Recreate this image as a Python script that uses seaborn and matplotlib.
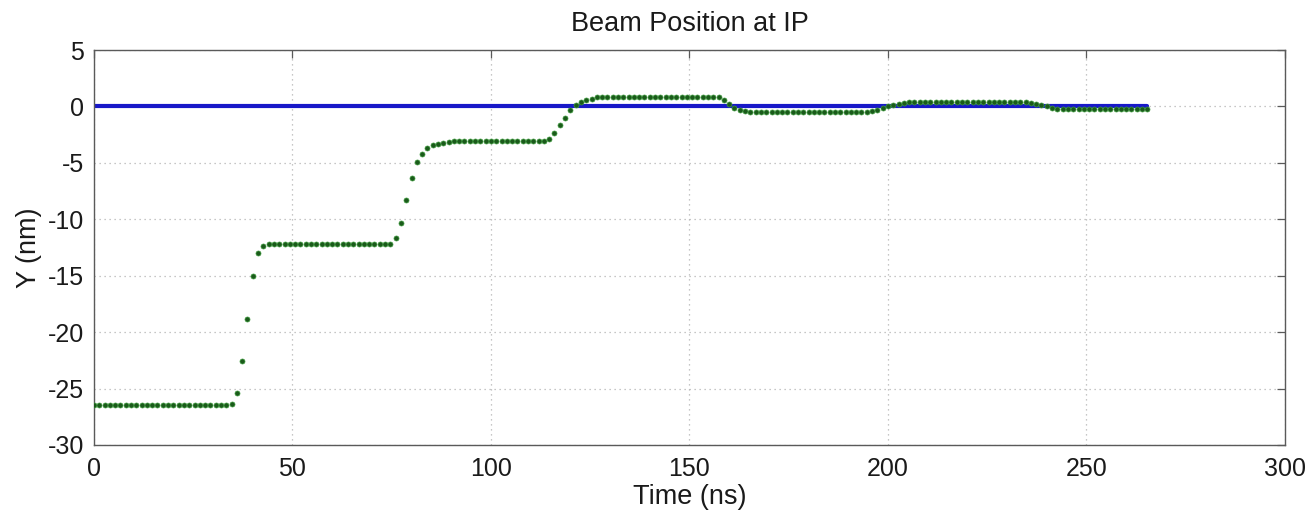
import numpy as np
import pandas as pd
import matplotlib
matplotlib.use("Agg")
import matplotlib.pyplot as plt
import seaborn as sns

# Sampling of the simulated bunch train
sample_period_ns = 4.0 / 3.0
n_samples = 200

# Vertical beam offset at the interaction point (nm), one value per bunch
beam_y_nm = [
    -26.5, -26.5, -26.5, -26.5, -26.5, -26.5, -26.5, -26.5, -26.5, -26.5,
    -26.5, -26.5, -26.5, -26.5, -26.5, -26.5, -26.5, -26.5, -26.5, -26.5,
    -26.5, -26.5, -26.5, -26.5, -26.5, -26.5, -26.4, -25.4, -22.6, -18.8,
    -15.0, -13.0, -12.4, -12.2, -12.2, -12.2, -12.2, -12.2, -12.2, -12.2,
    -12.2, -12.2, -12.2, -12.2, -12.2, -12.2, -12.2, -12.2, -12.2, -12.2,
    -12.2, -12.2, -12.2, -12.2, -12.2, -12.2, -12.2, -11.7, -10.3, -8.3,
    -6.3, -4.9, -4.2, -3.7, -3.45, -3.3, -3.2, -3.15, -3.1, -3.1,
    -3.1, -3.1, -3.1, -3.1, -3.1, -3.1, -3.1, -3.1, -3.1, -3.1,
    -3.1, -3.1, -3.1, -3.1, -3.1, -3.05, -2.85, -2.35, -1.65, -1.0,
    -0.35, 0.1, 0.4, 0.6, 0.7, 0.8, 0.85, 0.85, 0.85, 0.85,
    0.85, 0.85, 0.85, 0.85, 0.85, 0.85, 0.85, 0.85, 0.85, 0.85,
    0.85, 0.85, 0.85, 0.85, 0.85, 0.85, 0.85, 0.85, 0.8, 0.6,
    0.2, -0.1, -0.3, -0.4, -0.45, -0.45, -0.45, -0.45, -0.45, -0.45,
    -0.45, -0.45, -0.45, -0.45, -0.45, -0.45, -0.45, -0.45, -0.45, -0.45,
    -0.45, -0.45, -0.45, -0.45, -0.45, -0.45, -0.45, -0.4, -0.3, -0.15,
    0.0, 0.15, 0.25, 0.3, 0.35, 0.35, 0.35, 0.35, 0.35, 0.35,
    0.35, 0.35, 0.35, 0.35, 0.35, 0.35, 0.35, 0.35, 0.35, 0.35,
    0.35, 0.35, 0.35, 0.35, 0.35, 0.35, 0.35, 0.3, 0.25, 0.15,
    0.0, -0.1, -0.2, -0.25, -0.25, -0.25, -0.25, -0.25, -0.25, -0.25,
    -0.25, -0.25, -0.25, -0.25, -0.25, -0.25, -0.25, -0.25, -0.25, -0.25,
]

# Nominal (target) position at the IP
target_y_nm = [0.0] * n_samples

x_ticks = [0, 50, 100, 150, 200, 250, 300]
y_ticks = [-30, -25, -20, -15, -10, -5, 0, 5]

time_ns = np.arange(n_samples) * sample_period_ns
df = pd.DataFrame({"time": time_ns, "beam": beam_y_nm, "target": target_y_nm})

sns.set_style("white")
plt.rcParams["font.family"] = ["Liberation Sans", "DejaVu Sans"]
plt.rcParams["axes.edgecolor"] = "#5a5a5a"
plt.rcParams["axes.unicode_minus"] = False

fig = plt.figure(figsize=(13.14, 5.21), dpi=100)
ax = fig.add_axes([0.0715, 0.146, 0.9064, 0.758])

sns.lineplot(data=df, x="time", y="target", ax=ax, color="#1818c8",
             linewidth=3.0, zorder=2)
sns.scatterplot(data=df, x="time", y="beam", ax=ax, color="#1b5a1b",
                s=13, linewidth=0.5, edgecolor="#3d9a3d", zorder=3)

ax.set_xlim(0, 300)
ax.set_ylim(-30, 5)
ax.set_xticks(x_ticks)
ax.set_yticks(y_ticks)
ax.grid(True, linestyle=(0, (1, 3)), color="#b4b4b4", linewidth=0.9)
ax.set_axisbelow(True)
for sp in ax.spines.values():
    sp.set_linewidth(1.0)
    sp.set_visible(True)

ax.tick_params(direction="in", length=6, width=0.9, colors="#5a5a5a",
               labelcolor="#1a1a1a", labelsize=18, top=True, right=True)
ax.tick_params(axis="x", pad=9)
ax.tick_params(axis="y", pad=7)

ax.set_title("Beam Position at IP", fontsize=19.5, color="#1a1a1a", pad=14)
ax.set_xlabel("Time (ns)", fontsize=19.5, color="#1a1a1a", labelpad=2)
ax.set_ylabel("Y (nm)", fontsize=19.5, color="#1a1a1a", labelpad=4)

fig.savefig("out.png", dpi=100)
